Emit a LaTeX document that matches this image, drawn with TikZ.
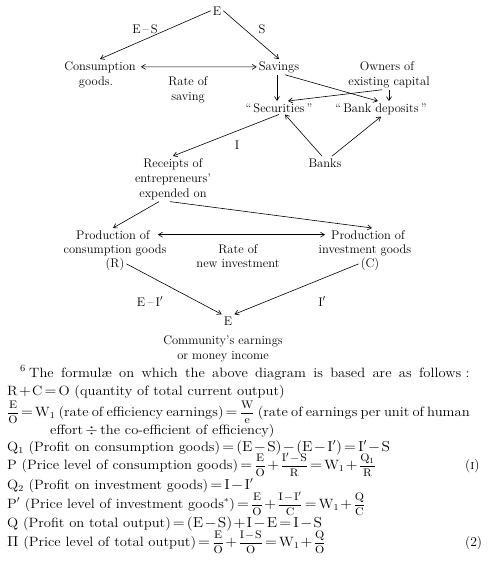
\documentclass[tikz,border=0pt]{standalone}
\usepackage{amsmath}
\usetikzlibrary{arrows.meta}
\newcommand\diagfont{\fontsize{12.5}{15}\selectfont}
\newcommand\notefont{\fontsize{13.5}{15}\selectfont\medmuskip=1.5mu\thickmuskip=2.5mu}
\newcommand\widentext[1]{\scalebox{1.08}[1]{#1}}
\newcommand\fr[2]{{\fontsize{11}{13}\selectfont$\displaystyle\frac{\mathrm{#1}}{\mathrm{#2}}$}}
\newcommand\op[1]{$\mathrm{{}#1{}}$}
\begin{document}
\begin{tikzpicture}[x=1pt,y=-1pt,
  lbl/.style={anchor=base,inner sep=2pt,font=\diagfont},
  arr/.style={-{Straight Barb[length=4pt,width=5pt]},line width=0.6pt},
  darr/.style={{Straight Barb[length=4pt,width=5pt]}-{Straight Barb[length=4pt,width=5pt]},line width=0.6pt},
  fl/.style={anchor=base west,inner sep=0pt,font=\notefont}]
\useasboundingbox (0,0) rectangle (494,565);
% --- diagram nodes ---
\node[lbl] (E) at (217,15) {E};
\node[lbl] (lES) at (145,33) {E\,\textendash\,S};
\node[lbl] (lS) at (262,33) {S};
\node[lbl] (cons1) at (100,70) {Consumption};
\node[lbl] (cons2) at (96,85) {goods.};
\node[lbl] (sav) at (279,70) {Savings};
\node[lbl] (rate1) at (188,85) {Rate of};
\node[lbl] (rate2) at (188,100) {saving};
\node[lbl] (own1) at (387,70) {Owners of};
\node[lbl] (own2) at (389,85) {existing capital};
\node[lbl] (sec) at (279,112) {“\,Securities\,”};
\node[lbl] (bank) at (381,112) {“\,Bank deposits\,”};
\node[lbl] (lI) at (237,149) {I};
\node[lbl] (banks) at (325,167) {Banks};
\node[lbl] (rec1) at (173,167) {Receipts of};
\node[lbl] (rec2) at (173,182) {entrepreneurs'};
\node[lbl] (rec3) at (173,197) {expended on};
\node[lbl] (pc1) at (113,239) {Production of};
\node[lbl] (pc2) at (115,253) {consumption goods};
\node[lbl] (pc3) at (115,267) {(R)};
\node[lbl] (rn1) at (238,253) {Rate of};
\node[lbl] (rn2) at (238,267) {new investment};
\node[lbl] (pi1) at (368,239) {Production of};
\node[lbl] (pi2) at (365,253) {investment goods};
\node[lbl] (pi3) at (370,267) {(C)};
\node[lbl] (lEI) at (150,306) {E\,\textendash\,I$'$};
\node[lbl] (lI2) at (322,306) {I$'$};
\node[lbl] (Eb) at (228,325) {E};
\node[lbl] (com1) at (223,344) {Community's earnings};
\node[lbl] (com2) at (223,359) {or money income};
% --- connectors ---
\draw[arr] (E.west) -- (cons1.north);
\draw[arr] (E.east) -- (sav.north);
\draw[darr] ([xshift=3pt]cons1.east) -- (sav.west);
\draw[arr] ([xshift=-2pt]sav.south) -- ([xshift=-2pt]sec.north);
\draw[arr] ([xshift=6pt]sav.south) -- ([xshift=-3pt]bank.north);
\draw[arr] ([xshift=-7pt]own2.south) -- ([xshift=9pt]sec.north);
\draw[arr] (own2.south) -- ([xshift=8pt]bank.north);
\draw[arr] (sec.south) -- (rec1.north);
\draw[arr] ([xshift=-3pt]banks.north) -- ([xshift=6pt]sec.south);
\draw[arr] ([xshift=7pt]banks.north) -- (bank.south);
\draw[arr] ([xshift=-14pt]rec3.south) -- (pc1.north);
\draw[arr] ([xshift=-3pt]rec3.south) -- ([xshift=4pt]pi1.north);
\draw[darr] ([xshift=6pt]pc1.east) -- ([xshift=-4pt]pi1.west);
\draw[arr] (pc3.east) -- (Eb.north west);
\draw[arr] (pi3.west) -- (Eb.north east);
% --- footnote ---
\node[fl] (f0) at (20,377) {\widentext{\makebox[416pt][s]{\textsuperscript{6}\hspace{3pt}The formul\ae{} on which the above diagram is based are as follows\hspace{4pt}:}}};
\node[fl] (f1) at (7,395) {\widentext{R\op{+}C\op{=}O (quantity of total current output)}};
\node[fl] (f2) at (7,416) {\widentext{\makebox[428pt][s]{\fr{E}{O}\op{=}W$_1$ (rate of efficiency earnings)\op{=}\fr{W}{e} (rate of earnings per unit of human}}};
\node[fl] (f3) at (50,434) {\widentext{effort$\,\div\,$the co-efficient of efficiency)}};
\node[fl] (f4) at (7,451) {\widentext{Q$_1$ (Profit on consumption goods)$\mathrm{{}=(E-S)-(E-I')=I'-S}$}};
\node[fl] (f5) at (7,469) {\widentext{P (Price level of consumption goods)\op{=}\fr{E}{O}\op{+}\fr{I'-S}{R}\op{=}W$_1$\op{+}\fr{Q_1}{R}}};
\node[fl] (n1) at (465,469) {(\textsc{i})};
\node[fl] (f6) at (7,489) {\widentext{Q$_2$ (Profit on investment goods)$\mathrm{{}=I-I'}$}};
\node[fl] (f7) at (7,508) {\widentext{P$'$ (Price level of investment goods$^*$)\op{=}\fr{E}{O}\op{+}\fr{I-I'}{C}\op{=}W$_1$\op{+}\fr{Q}{C}}};
\node[fl] (f8) at (7,527) {\widentext{Q (Profit on total output)$\mathrm{{}=(E-S)+I-E=I-S}$}};
\node[fl] (f9) at (7,546) {\widentext{$\Pi$ (Price level of total output)\op{=}\fr{E}{O}\op{+}\fr{I-S}{O}\op{=}W$_1$\op{+}\fr{Q}{O}}};
\node[fl] (n2) at (465,546) {(2)};
\end{tikzpicture}
\end{document}
